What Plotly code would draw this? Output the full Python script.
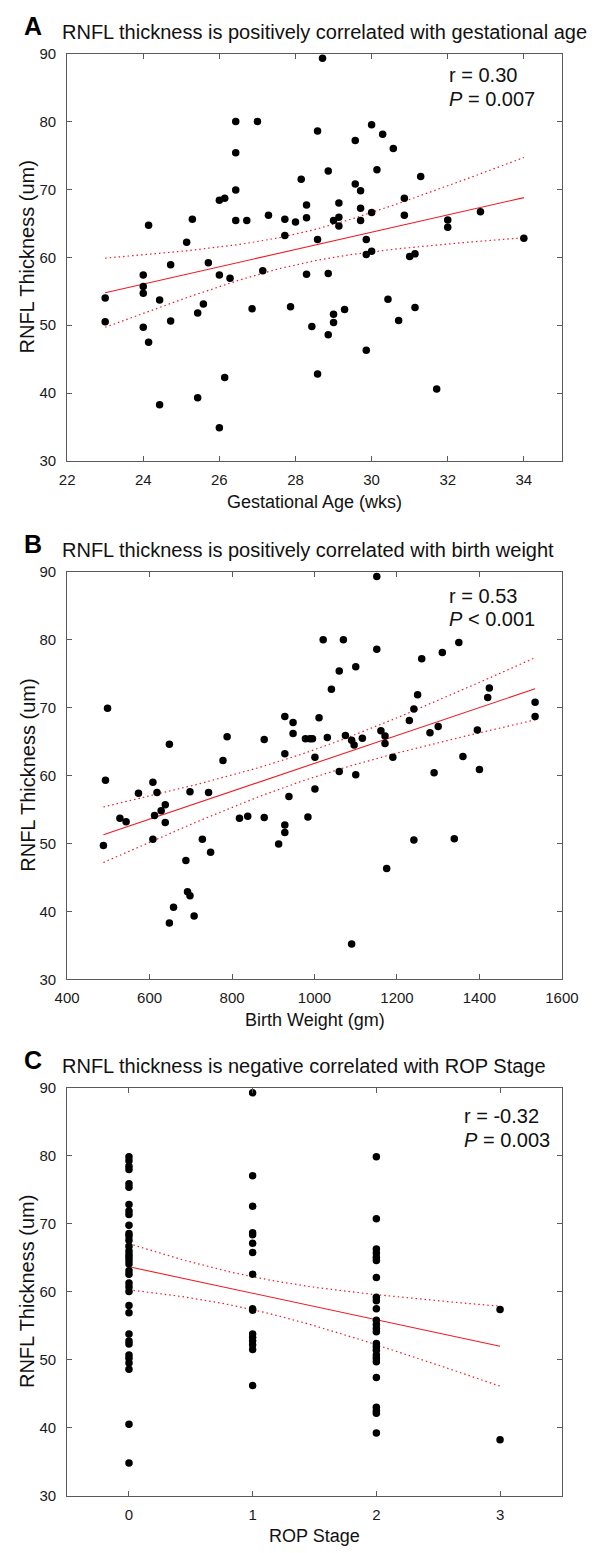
import numpy as np
import plotly.graph_objects as go

# ---------------- data ----------------
ga_weeks = [23.0, 23.0, 24.0, 24.0, 24.0, 24.0, 24.14, 24.14, 24.43, 24.43, 24.72, 24.72,
            25.14, 25.29, 25.43, 25.43, 25.58, 25.71, 26.0, 26.0, 26.0, 26.14, 26.14, 26.28,
            26.43, 26.43, 26.43, 26.43, 26.72, 26.86, 27.0, 27.14, 27.29, 27.72, 27.72, 27.87,
            28.0, 28.15, 28.29, 28.29, 28.29, 28.43, 28.58, 28.58, 28.58, 28.71, 28.86, 28.86,
            28.86, 29.0, 29.0, 29.0, 29.14, 29.14, 29.14, 29.29, 29.57, 29.57, 29.71, 29.71,
            29.71, 29.86, 29.86, 29.86, 30.0, 30.0, 30.0, 30.14, 30.29, 30.43, 30.57, 30.71,
            30.86, 30.86, 31.0, 31.14, 31.14, 31.29, 31.71, 32.0, 32.0, 32.86, 34.0]
rnfl_a = [54.0, 50.5, 57.4, 55.7, 54.7, 49.7, 64.7, 47.5, 53.7, 38.3, 58.9, 50.6,
          62.2, 65.6, 51.8, 39.3, 53.1, 59.2, 68.4, 57.4, 34.9, 68.7, 42.3, 56.9,
          80.0, 75.4, 69.9, 65.4, 65.4, 52.4, 80.0, 58.0, 66.2, 65.6, 63.2, 52.7,
          65.2, 71.5, 67.7, 65.8, 57.5, 49.8, 78.6, 62.6, 42.8, 89.3, 72.7, 57.6,
          48.6, 65.4, 51.6, 50.4, 68.0, 65.9, 64.6, 52.3, 77.2, 70.8, 69.8, 67.2,
          65.4, 62.6, 60.4, 46.3, 79.5, 66.6, 60.9, 72.9, 78.1, 53.8, 76.0, 50.7,
          68.7, 66.2, 60.1, 60.5, 52.6, 71.9, 40.6, 65.5, 64.4, 66.7, 62.8]

birth_weight = [488, 493, 498, 528, 543, 573, 608, 608, 612, 618, 628, 638, 638, 648, 648,
                658, 688, 692, 698, 698, 708, 728, 743, 748, 778, 788, 818, 838, 878, 878,
                913, 928, 928, 928, 928, 938, 948, 948, 978, 984, 989, 995, 1001, 1001, 1011,
                1021, 1031, 1041, 1060, 1060, 1070, 1075, 1090, 1096, 1090, 1100, 1100, 1116,
                1151, 1151, 1161, 1171, 1171, 1175, 1190, 1230, 1241, 1241, 1250, 1260, 1280,
                1290, 1300, 1310, 1339, 1350, 1360, 1395, 1400, 1420, 1424, 1535, 1535]
rnfl_b = [49.7, 59.3, 69.9, 53.7, 53.2, 57.4, 59.0, 50.6, 54.1, 57.5, 54.8, 55.7, 53.1, 64.6, 38.3,
          40.6, 47.5, 42.9, 42.3, 57.6, 39.3, 50.6, 57.5, 48.7, 62.2, 65.7, 53.7, 54.0, 65.3, 53.8,
          49.9, 68.7, 63.2, 52.7, 51.6, 56.9, 67.8, 66.2, 65.4, 53.9, 65.4, 65.4, 62.7, 58.0, 68.5,
          80.0, 65.6, 72.7, 75.4, 60.6, 80.0, 65.9, 65.2, 64.5, 35.2, 76.0, 60.1, 65.5,
          89.3, 78.6, 66.6, 65.8, 64.7, 46.3, 62.7, 68.1, 69.8, 50.5, 71.9, 77.2, 66.3,
          60.4, 67.2, 78.1, 50.7, 79.6, 62.8, 66.7, 60.9, 71.5, 72.9, 70.8, 68.7]

rnfl_stage0 = [79.9, 79.3, 78.5, 78.0, 75.9, 75.4, 72.85, 71.9, 71.4, 69.8, 68.6, 68.2, 67.6,
               66.7, 66.0, 65.5, 65.1, 64.6, 64.1, 63.1, 62.6, 61.3, 60.7, 60.05, 58.0, 56.9,
               53.8, 52.75, 52.3, 50.7, 50.2, 49.5, 48.6, 40.5, 34.8]
rnfl_stage1 = [89.3, 77.1, 72.6, 68.7, 68.4, 67.15, 65.8, 62.6, 57.5, 57.3, 53.8, 53.3,
               52.8, 52.2, 51.5, 46.2]
rnfl_stage2 = [79.9, 70.75, 66.3, 65.7, 65.1, 64.6, 62.1, 59.2, 58.7, 57.5, 55.8, 55.2,
               54.6, 54.1, 52.4, 51.9, 51.4, 50.7, 50.2, 49.7, 47.4, 43.0, 42.5, 42.1, 39.2]
rnfl_stage3 = [57.4, 38.2]
rop_stages = [0, 1, 2, 3]

titles = ["RNFL thickness is positively correlated with gestational age",
          "RNFL thickness is positively correlated with birth weight",
          "RNFL thickness is negative correlated with ROP Stage"]
panel_letters = ["A", "B", "C"]
x_titles = ["Gestational Age (wks)", "Birth Weight (gm)", "ROP Stage"]
y_title = "RNFL Thickness (um)"
r_texts = ["r = 0.30", "r = 0.53", "r = -0.32"]
p_texts = ["<i>P</i> = 0.007", "<i>P</i> &lt; 0.001", "<i>P</i> = 0.003"]
x_ranges = [[22, 35], [400, 1600], [-0.5, 3.5]]
x_ticks = [list(range(22, 35, 2)), list(range(400, 1601, 200)), [0, 1, 2, 3]]
y_ticks = list(range(30, 91, 10))
T_CRIT = 1.99  # 95% two-sided t quantile, ~80 d.f.

# ---------------- figure geometry ----------------
W, H = 596, 1553
X0, X1 = 57, 578
plot_tops = [45, 569, 1091]
plot_h = 412


def px(x):
    return x / W


def py(y):
    return 1 - y / H


def fit_band(x, y, n_pts=80):
    x = np.asarray(x, float)
    y = np.asarray(y, float)
    b, a = np.polyfit(x, y, 1)
    n = len(x)
    resid = y - (a + b * x)
    s = np.sqrt(np.sum(resid ** 2) / (n - 2))
    xm = x.mean()
    sxx = np.sum((x - xm) ** 2)
    xs = np.linspace(x.min(), x.max(), n_pts)
    yh = a + b * xs
    se = s * np.sqrt(1 / n + (xs - xm) ** 2 / sxx)
    return xs, yh, yh - T_CRIT * se, yh + T_CRIT * se


stage_x = (rop_stages[0:1] * len(rnfl_stage0) + rop_stages[1:2] * len(rnfl_stage1)
           + rop_stages[2:3] * len(rnfl_stage2) + rop_stages[3:4] * len(rnfl_stage3))
stage_y = rnfl_stage0 + rnfl_stage1 + rnfl_stage2 + rnfl_stage3

datasets = [(ga_weeks, rnfl_a), (birth_weight, rnfl_b), (stage_x, stage_y)]

fig = go.Figure()
RED = "#ee1c24"
AXC = "#5a5a5a"
FONT = "Liberation Sans, Arial, sans-serif"

annotations = []
for i, (xd, yd) in enumerate(datasets):
    sfx = "" if i == 0 else str(i + 1)
    xa, ya = "x" + sfx, "y" + sfx
    xs, yh, lo, hi = fit_band(xd, yd)
    for band in (lo, hi):
        fig.add_trace(go.Scatter(x=xs, y=band, mode="lines", xaxis=xa, yaxis=ya,
                                 line=dict(color=RED, width=1.2, dash="1.5px,3px"),
                                 showlegend=False, hoverinfo="skip"))
    fig.add_trace(go.Scatter(x=xs, y=yh, mode="lines", xaxis=xa, yaxis=ya,
                             line=dict(color=RED, width=1.1),
                             showlegend=False, hoverinfo="skip"))
    fig.add_trace(go.Scatter(x=xd, y=yd, mode="markers", xaxis=xa, yaxis=ya,
                             marker=dict(color="black", size=7.5, line=dict(width=0)),
                             showlegend=False))

    top = plot_tops[i]
    bottom = top + plot_h
    axis_common = dict(showline=True, linecolor=AXC, linewidth=1, mirror="ticks",
                       ticks="inside", ticklen=5, tickcolor=AXC, tickwidth=1,
                       showgrid=False, zeroline=False,
                       tickfont=dict(family=FONT, size=15, color="#1a1a1a"))
    fig.update_layout(**{
        "xaxis" + sfx: dict(domain=[px(X0), px(X1)], range=x_ranges[i],
                            tickmode="array", tickvals=x_ticks[i], anchor=ya,
                            ticklabelstandoff=5, **axis_common),
        "yaxis" + sfx: dict(domain=[py(bottom), py(top)], range=[30, 90],
                            tickmode="array", tickvals=y_ticks, anchor=xa,
                            ticklabelstandoff=7, **axis_common),
    })

    # panel letter and title
    annotations.append(dict(text="<b>" + panel_letters[i] + "</b>", x=px(9), y=py(top - 28),
                            xref="paper", yref="paper", xanchor="left", yanchor="middle",
                            showarrow=False, font=dict(family=FONT, size=25, color="black")))
    annotations.append(dict(text=titles[i], x=px(50), y=py(top - 22), xref="paper", yref="paper",
                            xanchor="left", yanchor="middle", showarrow=False,
                            font=dict(family=FONT, size=20, color="#111")))
    # axis titles
    annotations.append(dict(text=x_titles[i], x=px((X0 + X1) / 2), y=py(bottom + 41),
                            xref="paper", yref="paper", xanchor="center", yanchor="middle",
                            showarrow=False, font=dict(family=FONT, size=18, color="#111")))
    annotations.append(dict(text=y_title, x=px(15), y=py(top + plot_h / 2), textangle=-90,
                            xref="paper", yref="paper", xanchor="center", yanchor="middle",
                            showarrow=False, font=dict(family=FONT, size=20, color="#111")))
    # stats
    rx = 457 if i < 2 else 473
    ry = [21.5, 24, 28.5][i]
    annotations.append(dict(text=r_texts[i], x=px(rx), y=py(top + ry), xref="paper", yref="paper",
                            xanchor="left", yanchor="middle", showarrow=False,
                            font=dict(family=FONT, size=20, color="#111")))
    annotations.append(dict(text=p_texts[i], x=px(rx), y=py(top + ry + 24), xref="paper",
                            yref="paper", xanchor="left", yanchor="middle", showarrow=False,
                            font=dict(family=FONT, size=20, color="#111")))

fig.update_layout(width=W, height=H, margin=dict(l=0, r=0, t=0, b=0),
                  paper_bgcolor="white", plot_bgcolor="white",
                  annotations=annotations, showlegend=False,
                  font=dict(family=FONT))

fig.write_html("out.html")
